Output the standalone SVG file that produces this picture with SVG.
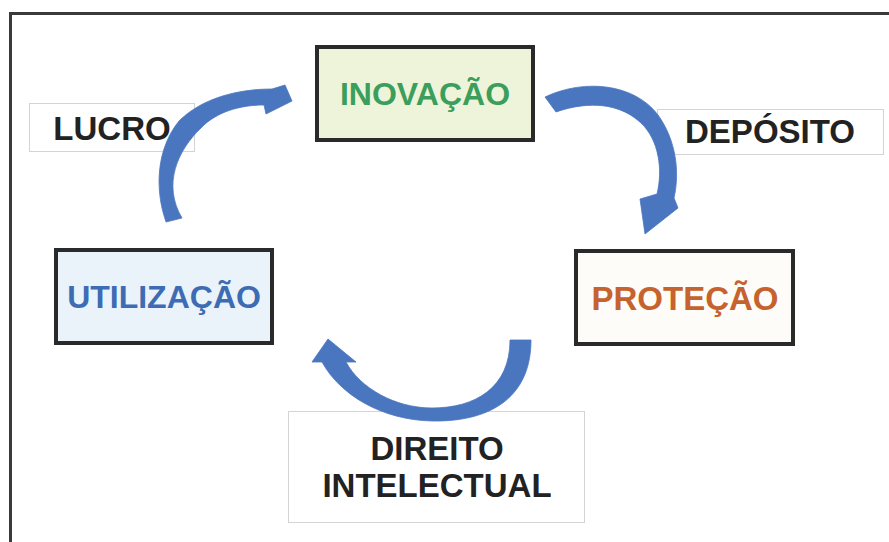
<svg xmlns="http://www.w3.org/2000/svg" width="889" height="542" viewBox="0 0 889 542">
<style>
.frame{fill:none;stroke:#3a3a3a;stroke-width:3}
.node{stroke:#2a2a2a;stroke-width:4}
.lbl{fill:#ffffff;stroke:#d4d4d4;stroke-width:1}
.t{font-family:"Liberation Sans",Arial,sans-serif;font-weight:bold;text-anchor:middle}
.arrow{fill:#4a76c0;stroke:#4a76c0;stroke-width:0.8;stroke-linejoin:round}
</style>
<rect width="889" height="542" fill="#ffffff"/>
<rect class="frame" x="10.5" y="13.5" width="900" height="560"/>

<g id="label-lucro">
<rect class="lbl" x="29.5" y="103.5" width="165" height="48"/>
<text class="t" x="112" y="140" font-size="33" fill="#222222">LUCRO</text>
</g>
<g id="label-deposito">
<rect class="lbl" x="657.5" y="109.5" width="226" height="45"/>
<text class="t" x="770" y="143" font-size="33" fill="#222222">DEPÓSITO</text>
</g>
<g id="label-direito">
<rect class="lbl" x="288.5" y="411.5" width="296" height="111"/>
<text class="t" x="437" y="460" font-size="33" fill="#222222">DIREITO</text>
<text class="t" x="437" y="497" font-size="33" fill="#222222">INTELECTUAL</text>
</g>

<g id="connectors">
<path class="arrow" d="M166,222 C154,188 157,148 179,121 C201,99 236,89 272,89 L285,85 L292,101 L266,114 L264,105 C240,105 216,112 201,128 C178,150 162,184 182,218 Z"/>
<path class="arrow" d="M545,97 C585,78 635,84 658,115 C676,140 680,172 674,198 L678,208 L645,234 L640,199 L657,194 C663,170 659,140 641,123 C621,104 590,100 556,112 Z"/>
<path class="arrow" d="M531,340 C531,400 487,422 432,421 C382,420 340,395 322,362 L312,362 L328,339 L356,362 L346,362 C360,388 395,408 432,408 C475,408 510,388 510,340 Z"/>
</g>

<g id="node-inovacao">
<rect class="node" x="317" y="47" width="216" height="93" fill="#eef4da"/>
<text class="t" x="425" y="105" font-size="32" fill="#3c9e5c">INOVAÇÃO</text>
</g>
<g id="node-utilizacao">
<rect class="node" x="56" y="250" width="216" height="93" fill="#ebf3fa"/>
<text class="t" x="164" y="308" font-size="32" fill="#3e6cb4">UTILIZAÇÃO</text>
</g>
<g id="node-protecao">
<rect class="node" x="576" y="251" width="217" height="93" fill="#fdfcf8"/>
<text class="t" x="685" y="310" font-size="33" fill="#c5622e">PROTEÇÃO</text>
</g>
</svg>
